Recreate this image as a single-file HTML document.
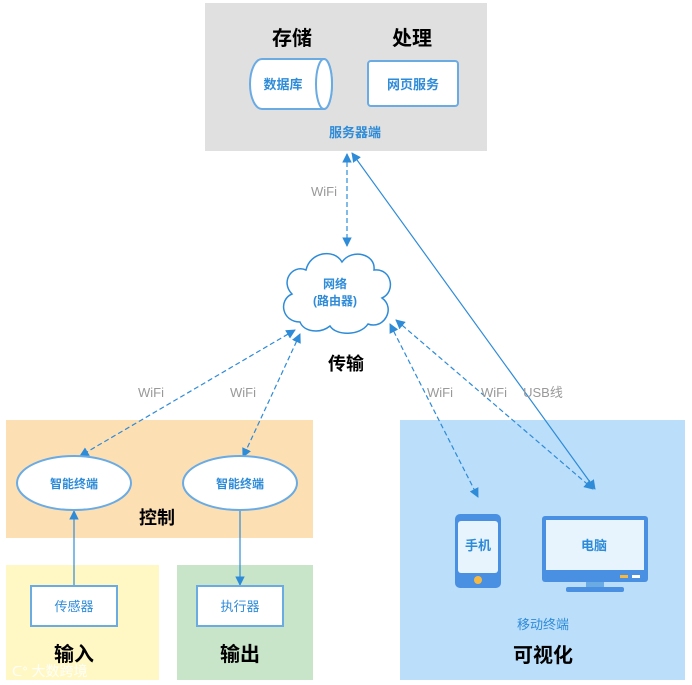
<!DOCTYPE html>
<html><head><meta charset="utf-8"><style>
body{margin:0;background:#fff}
svg{display:block;font-family:"Liberation Sans","Noto Sans CJK SC",sans-serif}
</style></head><body>
<svg width="692" height="685" viewBox="0 0 692 685" xmlns="http://www.w3.org/2000/svg">
<defs>
<marker id="a" viewBox="0 0 10 10" refX="9" refY="5" markerWidth="8" markerHeight="8" orient="auto-start-reverse"><path d="M0,0 L10,5 L0,10 z" fill="#2e8bd8"/></marker>
</defs>
<!-- boxes -->
<rect x="205" y="3" width="282" height="148" fill="#e0e0e0"/>
<rect x="6" y="420" width="307" height="118" fill="#fddfb4"/>
<rect x="6" y="565" width="153" height="115" fill="#fff8c4"/>
<rect x="177" y="565" width="136" height="115" fill="#c9e5c9"/>
<rect x="400" y="420" width="285" height="260" fill="#bbdefa"/>
<!-- server -->
<text x="292" y="45" font-size="20" font-weight="bold" text-anchor="middle">存储</text>
<text x="412" y="45" font-size="20" font-weight="bold" text-anchor="middle">处理</text>
<path d="M262,59 H324 A8,25 0 0 1 324,109 H262 A12,25 0 0 1 262,59 z" fill="#fff" stroke="#6aabe4" stroke-width="2"/>
<ellipse cx="324" cy="84" rx="8" ry="25" fill="#fff" stroke="#6aabe4" stroke-width="2"/>
<text x="283" y="89" font-size="13" fill="#2e8bd8" text-anchor="middle" font-weight="bold">数据库</text>
<rect x="368" y="61" width="90" height="45" rx="3" fill="#fff" stroke="#6aabe4" stroke-width="2"/>
<text x="413" y="89" font-size="13" fill="#2e8bd8" text-anchor="middle" font-weight="bold">网页服务</text>
<text x="355" y="137" font-size="13" fill="#2e8bd8" text-anchor="middle" font-weight="bold">服务器端</text>
<!-- connectors -->
<g stroke="#2e8bd8" stroke-width="1.2" fill="none">
<line x1="347" y1="154" x2="347" y2="246" stroke-dasharray="5,3" marker-start="url(#a)" marker-end="url(#a)"/>
<line x1="295" y1="330" x2="80" y2="456" stroke-dasharray="5,3" marker-start="url(#a)" marker-end="url(#a)"/>
<line x1="300" y1="334" x2="243" y2="457" stroke-dasharray="5,3" marker-start="url(#a)" marker-end="url(#a)"/>
<line x1="390" y1="324" x2="478" y2="497" stroke-dasharray="5,3" marker-start="url(#a)" marker-end="url(#a)"/>
<line x1="396" y1="320" x2="593" y2="489" stroke-dasharray="5,3" marker-start="url(#a)" marker-end="url(#a)"/>
<line x1="352" y1="153" x2="595" y2="489" marker-start="url(#a)" marker-end="url(#a)"/>
<line x1="240" y1="511" x2="240" y2="585" marker-end="url(#a)"/>
<line x1="74" y1="586" x2="74" y2="511" marker-end="url(#a)"/>
</g>
<g font-size="13" fill="#999">
<text x="324" y="196" text-anchor="middle">WiFi</text>
<text x="151" y="397" text-anchor="middle">WiFi</text>
<text x="243" y="397" text-anchor="middle">WiFi</text>
<text x="440" y="397" text-anchor="middle">WiFi</text>
<text x="494" y="397" text-anchor="middle">WiFi</text>
<text x="543" y="397" text-anchor="middle">USB线</text>
</g>
<!-- cloud -->
<path d="M300,322 C282,322 278,300 292,294 C280,282 292,264 306,270 C310,252 334,248 342,262 C352,248 376,254 374,270 C392,268 396,292 382,298 C396,308 384,330 368,324 C360,336 336,336 330,326 C320,334 304,332 300,322 z" fill="#fff" stroke="#2e8bd8" stroke-width="1.5"/>
<text x="335" y="288" font-size="12" fill="#2e8bd8" text-anchor="middle" font-weight="bold">网络</text>
<text x="335" y="305" font-size="12" fill="#2e8bd8" text-anchor="middle" font-weight="bold">(路由器)</text>
<text x="346" y="370" font-size="18" font-weight="bold" text-anchor="middle">传输</text>
<!-- control -->
<ellipse cx="74" cy="483" rx="57" ry="27" fill="#fff" stroke="#6aabe4" stroke-width="2"/>
<ellipse cx="240" cy="483" rx="57" ry="27" fill="#fff" stroke="#6aabe4" stroke-width="2"/>
<text x="74" y="488" font-size="12" fill="#2e8bd8" text-anchor="middle" font-weight="bold">智能终端</text>
<text x="240" y="488" font-size="12" fill="#2e8bd8" text-anchor="middle" font-weight="bold">智能终端</text>
<text x="157" y="524" font-size="18" font-weight="bold" text-anchor="middle">控制</text>
<!-- io -->
<rect x="31" y="586" width="86" height="40" fill="#fff" stroke="#6aabe4" stroke-width="2"/>
<text x="74" y="611" font-size="13" fill="#2e8bd8" text-anchor="middle">传感器</text>
<rect x="197" y="586" width="86" height="40" fill="#fff" stroke="#6aabe4" stroke-width="2"/>
<text x="240" y="611" font-size="13" fill="#2e8bd8" text-anchor="middle">执行器</text>
<text x="74" y="661" font-size="20" font-weight="bold" text-anchor="middle">输入</text>
<text x="240" y="661" font-size="20" font-weight="bold" text-anchor="middle">输出</text>
<text x="12" y="676" font-size="14" fill="#fff" opacity="0.9">ᑕᐤ 大数跨境</text>
<!-- phone -->
<rect x="455" y="514" width="46" height="74" rx="5" fill="#4a90e2"/>
<rect x="458" y="521" width="40" height="52" rx="3" fill="#e8f4fd"/>
<circle cx="478" cy="580" r="4" fill="#f5b942"/>
<text x="478" y="550" font-size="13" fill="#2e8bd8" text-anchor="middle" font-weight="bold">手机</text>
<!-- monitor -->
<rect x="542" y="516" width="106" height="66" rx="3" fill="#4a90e2"/>
<rect x="546" y="520" width="98" height="50" fill="#e8f4fd"/>
<rect x="586" y="582" width="18" height="6" fill="#6aabe4"/>
<rect x="566" y="587" width="58" height="5" rx="2" fill="#4a90e2"/>
<rect x="620" y="575" width="8" height="3" fill="#f5b942"/>
<rect x="632" y="575" width="8" height="3" fill="#fff"/>
<text x="594" y="550" font-size="13" fill="#2e8bd8" text-anchor="middle" font-weight="bold">电脑</text>
<text x="543" y="629" font-size="13" fill="#2e8bd8" text-anchor="middle">移动终端</text>
<text x="543" y="662" font-size="20" font-weight="bold" text-anchor="middle">可视化</text>
</svg>
</body></html>
